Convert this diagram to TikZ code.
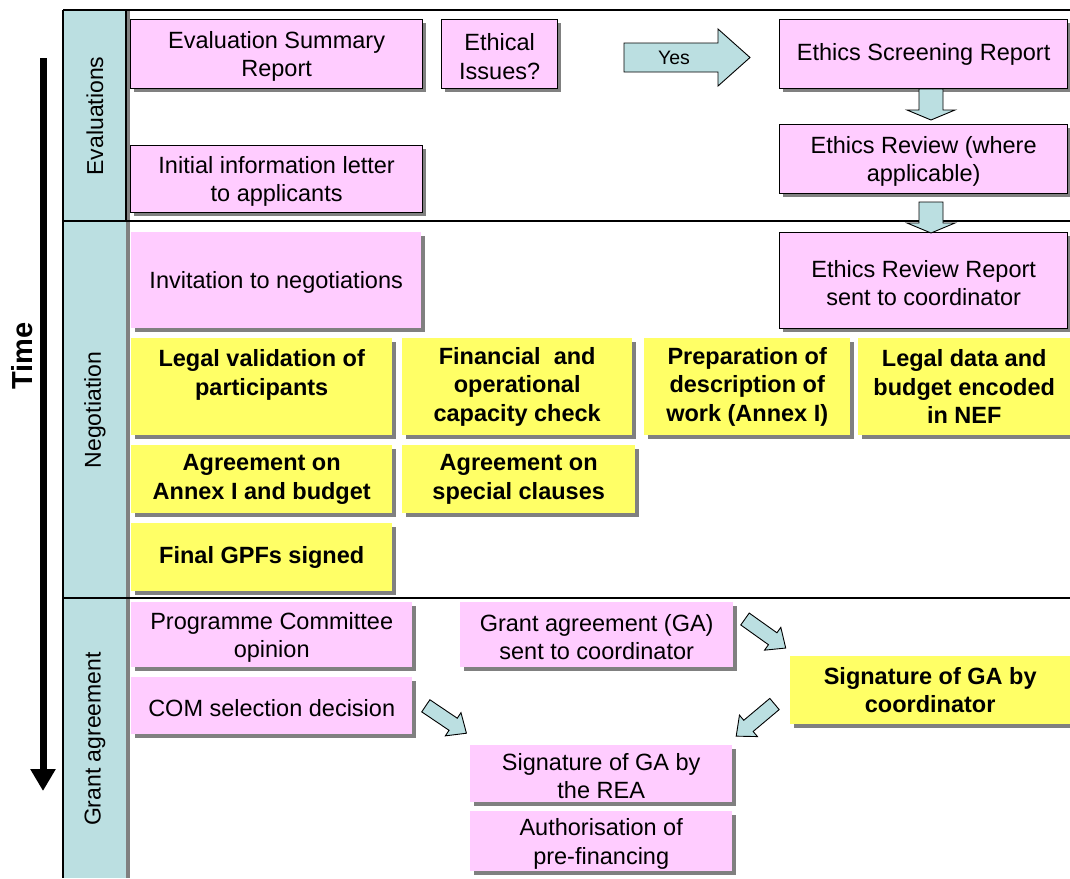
\documentclass[tikz,border=0pt]{standalone}
\usepackage{fontspec}
\setmainfont{Liberation Sans}
\usetikzlibrary{shadows,arrows.meta}
\definecolor{pinkf}{HTML}{FFCCFF}
\definecolor{yelf}{HTML}{FFFF66}
\definecolor{lanef}{HTML}{BBDFE1}
\definecolor{shad}{HTML}{808080}
\newcommand\blkarrow[6]{\draw[blockarr, shift={(#1)}, rotate=#2] (0,-#4) -- (#3-#6,-#4) -- (#3-#6,-#5) -- (#3,0) -- (#3-#6,#5) -- (#3-#6,#4) -- (0,#4) -- cycle;}
\newcommand\tpstrut{\rule{0pt}{22pt}}
\tikzset{
  base/.style={rectangle, inner sep=0pt, anchor=north west, align=center,
    font=\fontsize{23.5}{28.5}\selectfont,
    drop shadow={shadow xshift=3.5pt, shadow yshift=-3.5pt, fill=shad, opacity=1}},
  sz/.style 2 args={minimum width=#1pt, minimum height=#2pt},
  pinkb/.style={base, fill=pinkf, draw=black, line width=1.3pt},
  pinkn/.style={base, fill=pinkf},
  yel/.style={base, fill=yelf, font=\fontsize{23.5}{28.5}\selectfont\bfseries},
  blockarr/.style={draw=black, fill=lanef, line width=0.9pt, line join=miter},
  lanelbl/.style={rotate=90, font=\fontsize{23}{28}\selectfont},
  frameline/.style={line width=1.4pt, draw=black},
}
\begin{document}
\begin{tikzpicture}[x=1pt, y=-1pt]
\useasboundingbox[fill=white] (0,0) rectangle (1070,878);
% lane header column
\fill[lanef] (63,10) rectangle (127,878);
\fill[shad] (126,10) rectangle (129.5,878);
\draw[frameline] (126,10) -- (126,221);
\draw[frameline] (63,10) -- (1070,10);
\draw[frameline] (63,10) -- (63,878);
\draw[frameline] (63,221) -- (1070,221);
\draw[frameline] (63,598) -- (1070,598);
\node[lanelbl] (lane1) at (95,116) {Evaluations};
\node[lanelbl] (lane2) at (95,410) {Negotiation};
\node[lanelbl] (lane3) at (95,739) {Grant agreement};
% time arrow
\node[rotate=90, font=\fontsize{29}{34}\selectfont\bfseries] (time) at (22,356) {Time};
\coordinate (ts) at (43,58);
\coordinate (te) at (43,791);
\draw[line width=7pt, -{Triangle[length=22pt,width=24pt]}] (ts) -- (te);
% Evaluations
\node[pinkb, sz={292}{69}] (esr) at (130,19) {\tpstrut Evaluation Summary\\Report};
\node[pinkb, sz={116}{69}] (eth) at (441,19) {\tpstrut Ethical\\Issues?};
\node[pinkb, sz={288}{69}] (screen) at (779,19) {Ethics Screening Report};
\node[pinkb, sz={288}{69}] (review) at (779,124) {\tpstrut Ethics Review (where\\applicable)};
\node[pinkb, sz={292}{67}] (letter) at (130,145) {\tpstrut Initial information letter\\to applicants};
% Negotiation
\node[pinkn, sz={290}{96}] (invit) at (131,232) {\tpstrut Invitation to negotiations};
\node[pinkb, sz={288}{96}] (errep) at (779,232) {\tpstrut Ethics Review Report\\sent to coordinator};
\node[yel, sz={261}{97}] (legal) at (131,338) {Legal validation of\\participants\\\mbox{}};
\node[yel, sz={230}{97}] (fin) at (402,338) {Financial~ and\\operational\\capacity check};
\node[yel, sz={206}{97}] (prep) at (644,338) {Preparation of\\description of\\work (Annex I)};
\node[yel, sz={212}{97}] (nef) at (858,338) {Legal data and\\budget encoded\\in NEF};
\node[yel, sz={261}{68}] (annex) at (131,445) {Agreement on\\Annex I and budget};
\node[yel, sz={233}{68}] (spec) at (402,445) {Agreement on\\special clauses};
\node[yel, sz={261}{68}] (gpf) at (131,523) {Final GPFs signed};
% Grant agreement
\node[pinkn, sz={281}{65}] (pc) at (131,602) {\tpstrut Programme Committee\\opinion};
\node[pinkn, sz={281}{57}] (com) at (131,677) {\tpstrut COM selection decision};
\node[pinkn, sz={273}{65}] (gasent) at (460,602) {\tpstrut Grant agreement (GA)\\sent to coordinator};
\node[yel, sz={280}{68}] (sigc) at (790,656) {Signature of GA by\\coordinator};
\node[pinkn, sz={262}{57}] (sigrea) at (470,745) {\tpstrut Signature of GA by\\the REA};
\node[pinkn, sz={262}{60}] (auth) at (470,811) {\tpstrut Authorisation of\\pre-financing};
% block arrows
\coordinate (yesS) at (624,57.5);
\blkarrow{yesS}{0}{126}{14.5}{28.5}{32}
\node[font=\fontsize{19.5}{22}\selectfont] (yes) at (674,58) {Yes};
\coordinate (d1) at (931,89);
\blkarrow{d1}{-90}{31}{12}{24}{10}
\coordinate (d2) at (931,202);
\blkarrow{d2}{-90}{31}{12}{24}{10}
\coordinate (g1) at (745,619);
\blkarrow{g1}{-35.5}{50}{7.3}{14}{16}
\coordinate (g2) at (774.5,704);
\blkarrow{g2}{-140}{50}{7.3}{14}{16}
\coordinate (g3) at (425.8,705.8);
\blkarrow{g3}{-34}{49}{7.3}{14}{16}
\end{tikzpicture}
\end{document}
